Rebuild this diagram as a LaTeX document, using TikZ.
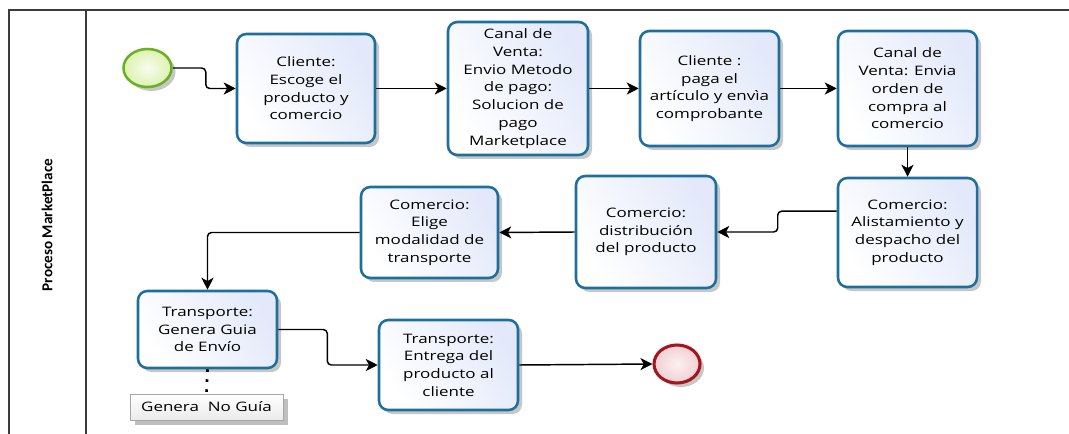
\documentclass[tikz,border=0pt]{standalone}
\usepackage{fontspec}
\usetikzlibrary{arrows.meta,shadows,calc,shapes.geometric}
\newfontfamily\boxfont[FakeStretch=1.3]{Open Sans}
\newfontfamily\lanefont{Carlito}
\definecolor{boxline}{HTML}{1E6E9E}
\definecolor{boxfill}{HTML}{E3E9FA}
\definecolor{startline}{HTML}{6BAF24}
\definecolor{startfill}{HTML}{DDF2B0}
\definecolor{endline}{HTML}{A3161E}
\definecolor{endfill}{HTML}{F2CFD2}
\definecolor{frameline}{HTML}{3C3C3C}
\tikzset{
  taskbox/.style={draw=boxline, line width=1.9pt, rounded corners=7pt,
    left color=white, right color=boxfill, shading angle=120,
    drop shadow={shadow xshift=3pt, shadow yshift=-3pt, opacity=0.22, fill=black},
    align=center, inner sep=2pt,
    font=\boxfont\fontsize{9.8}{13.3}\selectfont},
  startev/.style={ellipse, draw=startline, line width=1.9pt,
    inner color=white!80!startfill, outer color=startfill,
    drop shadow={shadow xshift=3pt, shadow yshift=-3pt, opacity=0.22, fill=black}},
  endev/.style={ellipse, draw=endline, line width=2.3pt,
    inner color=white!70!endfill, outer color=endfill,
    drop shadow={shadow xshift=3pt, shadow yshift=-3pt, opacity=0.22, fill=black}},
  conn/.style={draw=black, line width=1.1pt, rounded corners=3pt,
    -{Stealth[length=9pt, width=9pt, inset=2.5pt]}},
  notebox/.style={draw=black!35, line width=0.6pt, top color=white, bottom color=black!8,
    drop shadow={shadow xshift=4pt, shadow yshift=-4pt, opacity=0.25, fill=black},
    font=\boxfont\fontsize{9.8}{12}\selectfont, inner sep=2pt},
  frame/.style={draw=frameline, line width=1.5pt}
}
\begin{document}
\begin{tikzpicture}[x=0.75pt, y=-0.75pt]
\useasboundingbox (0,0) rectangle (1069,434);
\fill[white] (0,0) rectangle (1069,434);
% frame
\coordinate (ftl) at (9,10);
\coordinate (ftr) at (1069,10);
\coordinate (fbl) at (9,434);
\coordinate (sept) at (86,10);
\coordinate (sepb) at (86,434);
\draw[frame] (ftr) -- (ftl) -- (fbl);
\draw[frame] (sept) -- (sepb);
\node[rotate=90, font=\lanefont\bfseries\fontsize{11.4}{13}\selectfont] (lane) at (47,225) {Proceso MarketPlace};

% events
\node[startev, minimum width=48*0.75pt, minimum height=38*0.75pt, inner sep=0pt] (start) at (147.5,68) {};
\node[endev, minimum width=46*0.75pt, minimum height=38*0.75pt, inner sep=0pt] (end) at (677,364) {};

% tasks
\node[taskbox, minimum width=138*0.75pt, minimum height=109*0.75pt] (b1) at (306,88.5) {Cliente:\\Escoge el\\producto y\\comercio};
\node[taskbox, minimum width=140*0.75pt, minimum height=133*0.75pt] (b2) at (518,88.5) {Canal de\\Venta:\\Envio Metodo\\de pago:\\Solucion de\\pago\\Marketplace};
\node[taskbox, minimum width=139*0.75pt, minimum height=115*0.75pt] (b3) at (709.5,88.5) {Cliente :\\paga el\\artículo y envìa\\comprobante};
\node[taskbox, minimum width=139*0.75pt, minimum height=115*0.75pt] (b4) at (907.5,88.5) {Canal de\\Venta: Envia\\orden de\\compra al\\comercio};
\node[taskbox, minimum width=139*0.75pt, minimum height=109*0.75pt] (b5) at (907.5,232.5) {Comercio:\\Alistamiento y\\despacho del\\producto};
\node[taskbox, minimum width=140*0.75pt, minimum height=112*0.75pt] (b6) at (646,232) {Comercio:\\distribución\\del producto};
\node[taskbox, minimum width=137*0.75pt, minimum height=91*0.75pt] (b7) at (429.5,232.5) {Comercio:\\Elige\\modalidad de\\transporte};
\node[taskbox, minimum width=139*0.75pt, minimum height=77*0.75pt] (b8) at (207.5,329.5) {Transporte:\\Genera Guia\\de Envío};
\node[taskbox, minimum width=139*0.75pt, minimum height=90*0.75pt] (b9) at (448.5,365) {Transporte:\\Entrega del\\producto al\\cliente};

% annotation
\node[notebox, minimum width=153*0.75pt, minimum height=26*0.75pt] (note) at (206.5,407) {Genera\ \ No Guía};
\draw[black, line width=2pt, dash pattern=on 2pt off 5.5pt] (b8.south) -- (note.north);

% connectors
\draw[conn] (start.east) -- ++(33,0) |- (b1.west);
\draw[conn] (b1.east) -- (b2.west);
\draw[conn] (b2.east) -- (b3.west);
\draw[conn] (b3.east) -- (b4.west);
\draw[conn] (b4.south) -- (b5.north);
\draw[conn] ([yshift=16pt]b5.west) -- ++(-59,0) |- (b6.east);
\draw[conn] (b6.west) -- (b7.east);
\draw[conn] (b7.west) -| (b8.north);
\draw[conn] (b8.east) -- ++(49,0) |- (b9.west);
\draw[conn] (b9.east) -- (end.west);
\end{tikzpicture}
\end{document}
